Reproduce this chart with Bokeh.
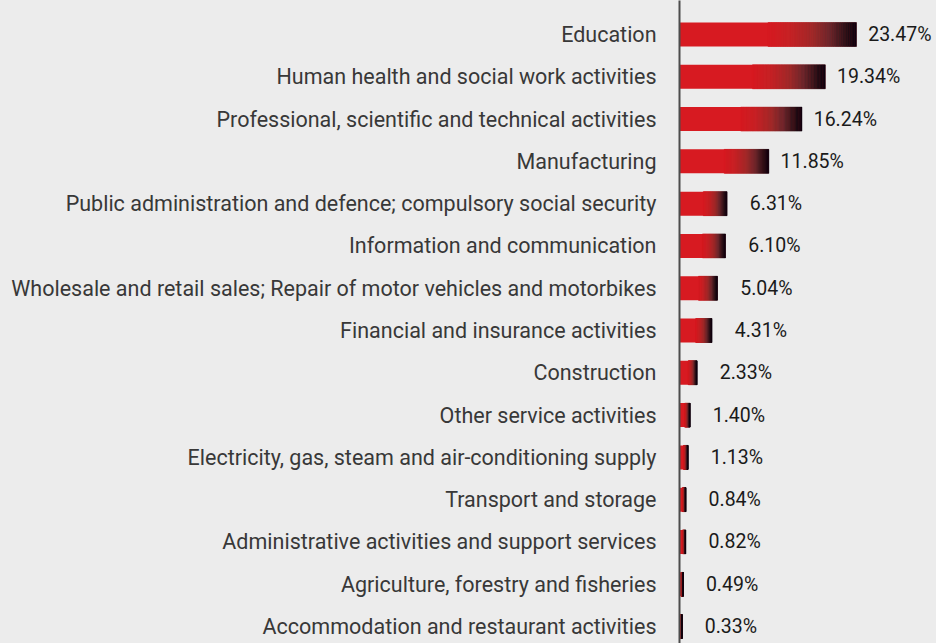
from bokeh.plotting import figure
from bokeh.models import ColumnDataSource, Range1d, FixedTicker
from bokeh.embed import file_html
from bokeh.resources import INLINE
from bokeh.core.properties import value

categories = [
    "Education",
    "Human health and social work activities",
    "Professional, scientific and technical activities",
    "Manufacturing",
    "Public administration and defence; compulsory social security",
    "Information and communication",
    "Wholesale and retail sales; Repair of motor vehicles and motorbikes",
    "Financial and insurance activities",
    "Construction",
    "Other service activities",
    "Electricity, gas, steam and air-conditioning supply",
    "Transport and storage",
    "Administrative activities and support services",
    "Agriculture, forestry and fisheries",
    "Accommodation and restaurant activities",
]
shares = [23.47, 19.34, 16.24, 11.85, 6.31, 6.10, 5.04, 4.31, 2.33, 1.40, 1.13, 0.84, 0.82, 0.49, 0.33]
value_labels = ["%.2f%%" % v for v in shares]

BG = "#ececec"
RED = (215, 26, 33)
# gradient stops (fraction of bar length -> colour)
STOPS = [(0.0, RED), (0.5, RED), (0.62, (198, 34, 38)), (0.75, (160, 42, 42)),
         (0.85, (106, 40, 45)), (0.94, (42, 18, 24)), (1.0, (12, 0, 14))]


def grad_color(t):
    for (t0, c0), (t1, c1) in zip(STOPS[:-1], STOPS[1:]):
        if t <= t1:
            f = 0 if t1 == t0 else (t - t0) / (t1 - t0)
            c = [round(a + (b - a) * f) for a, b in zip(c0, c1)]
            return "#%02x%02x%02x" % tuple(c)
    return "#%02x%02x%02x" % STOPS[-1][1]


idx = list(range(len(categories)))

ROW = 42.29
FRAME_H = 643
top = -34 / ROW
bottom = top + FRAME_H / ROW
LEFT = 679
WIDTH = 936
PX_PER_PCT = 7.54

p = figure(width=WIDTH, height=FRAME_H, output_backend="svg", toolbar_location=None,
           x_range=Range1d(0, (WIDTH - LEFT) / PX_PER_PCT), y_range=Range1d(bottom, top),
           x_axis_location=None, min_border_left=LEFT, min_border_right=0,
           min_border_top=0, min_border_bottom=0,
           background_fill_color=BG, border_fill_color=BG, outline_line_color=None)
p.grid.visible = False

# base bars
base = ColumnDataSource(dict(y=idx, right=shares))
p.hbar(y="y", left=0, right="right", height=24 / ROW, source=base,
       fill_color="#%02x%02x%02x" % RED, line_color=None)

# gradient overlay segments
N = 50
ys, lefts, rights, cols = [], [], [], []
for i, v in zip(idx, shares):
    for j in range(N):
        t0 = 0.5 + 0.5 * j / N
        t1 = 0.5 + 0.5 * (j + 1) / N
        ys.append(i)
        lefts.append(v * t0)
        rights.append(v * t1)
        cols.append(grad_color((t0 + t1) / 2))
seg = ColumnDataSource(dict(y=ys, left=lefts, right=rights, c=cols))
p.hbar(y="y", left="left", right="right", height=24 / ROW, source=seg,
       fill_color="c", line_color="c", line_width=0.5)

# value labels
lab = ColumnDataSource(dict(x=shares, y=idx, t=value_labels))
p.text(x="x", y="y", text="t", source=lab, x_offset=75, text_align="right",
       text_baseline="middle", text_font=value("Roboto"),
       text_font_size="19.5px", text_color="#1a1a1a")

ax = p.yaxis[0]
ax.ticker = FixedTicker(ticks=idx)
ax.major_label_overrides = {i: c for i, c in zip(idx, categories)}
ax.major_label_text_font = "Roboto"
ax.major_label_text_font_size = "21.5px"
ax.major_label_text_color = "#383838"
ax.major_label_standoff = 17
ax.major_tick_line_color = None
ax.minor_tick_line_color = None
ax.axis_line_color = "#4d4d4d"
ax.axis_line_width = 2

html = file_html(p, INLINE)
html = html.replace("</head>", "<style>html,body{background:#ececec;overflow:hidden;}</style></head>", 1)
open("out.html", "w").write(html)
